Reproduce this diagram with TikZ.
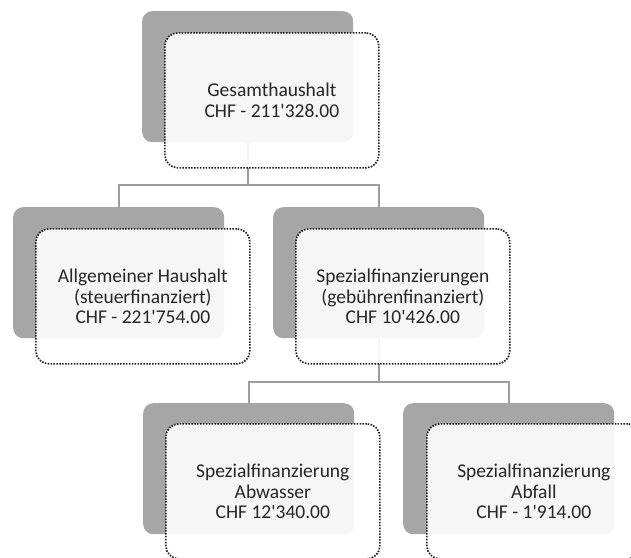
\documentclass[tikz,border=0pt]{standalone}
\usepackage{fontspec}
\setmainfont[Ligatures=TeXOff]{Carlito}
\usepackage{tikz}

\definecolor{shade}{HTML}{A6A6A6}
\definecolor{conncol}{HTML}{9C9C9C}

\begin{document}
\begin{tikzpicture}
  [x=1pt, y=-1pt,
   back/.style={fill=shade, rounded corners=10pt, inner sep=0pt,
     minimum width=211pt, minimum height=131pt, anchor=north west},
   front/.style={draw=black!90, line width=1.7pt,
     dash pattern=on 1.5pt off 1.4pt, fill=white, fill opacity=0.9,
     text opacity=1, rounded corners=13pt, inner sep=0pt,
     minimum width=214pt, minimum height=135pt, anchor=north west,
     align=center, text=black!85, font=\fontsize{19.5}{20.5}\selectfont},
   conn/.style={draw=conncol, line width=2pt}]
  \useasboundingbox (0,0) rectangle (631,557);

  \node[back] (b1) at (142, 11) {};
  \node[back] (b2) at (13, 207) {};
  \node[back] (b3) at (273, 207) {};
  \node[back] (b4) at (143, 403) {};
  \node[back] (b5) at (403, 403) {};

  \foreach \from/\to/\drop in {b1/b2/43,b1/b3/43,b3/b4/44,b3/b5/44}
  \draw[conn] (\from.south) -- ++(0,\drop) -| (\to.north);

  \node[front] (n1) at ([shift={(22,21)}]b1.north west)
    {Gesamthaushalt\\CHF - 211'328.00};
  \node[front] (n2) at ([shift={(22,21)}]b2.north west)
    {Allgemeiner Haushalt\\(steuerfinanziert)\\CHF - 221'754.00};
  \node[front] (n3) at ([shift={(22,21)}]b3.north west)
    {Spezialfinanzierungen\\(gebührenfinanziert)\\CHF 10'426.00};
  \node[front] (n4) at ([shift={(22,20)}]b4.north west)
    {Spezialfinanzierung\\Abwasser\\CHF 12'340.00};
  \node[front] (n5) at ([shift={(23,20)}]b5.north west)
    {Spezialfinanzierung\\Abfall\\CHF - 1'914.00};

\end{tikzpicture}
\end{document}
